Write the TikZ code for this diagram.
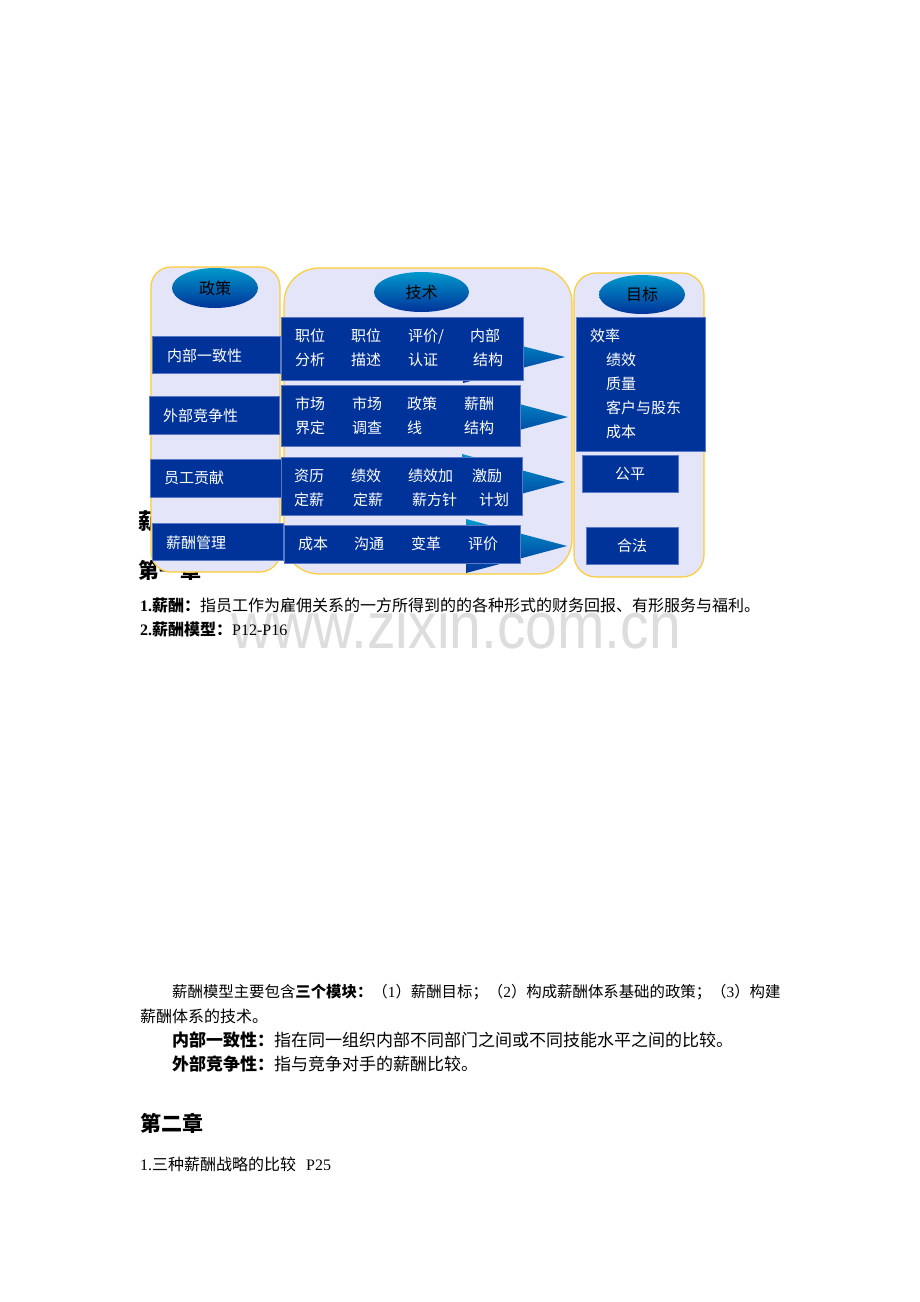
\documentclass[tikz,border=0pt]{standalone}
\usepackage{fontspec}
\setmainfont{Liberation Serif}
\newfontfamily\cjk{Noto Sans CJK SC}
\newfontfamily\wmfont{Liberation Sans}
\usetikzlibrary{positioning, shapes.geometric, fit, calc}
\definecolor{boxblue}{RGB}{0,51,153}
\definecolor{boxedge}{RGB}{90,120,200}
\definecolor{headcyan}{RGB}{0,153,204}
\definecolor{panelfill}{RGB}{229,229,250}
\definecolor{panelline}{RGB}{255,204,51}
\definecolor{wmgray}{RGB}{221,221,221}
\newcommand{\Lat}[1]{{\rmfamily #1}}
\newcommand{\Size}[1]{\fontsize{#1}{24}\selectfont}
\tikzset{
    panel/.style={draw=panelline, line width=1.2pt, fill=panelfill, rounded corners=#1, inner sep=0pt},
    head/.style={ellipse, top color=headcyan, bottom color=boxblue, inner sep=0pt, font=\cjk\Size{16}},
    bluebox/.style={fill=boxblue, draw=boxedge, line width=0.5pt, inner sep=0pt},
    wedge/.style={top color=headcyan, bottom color=boxblue},
    cell/.style={text=white, anchor=west, inner sep=0pt, align=left, font=\cjk\Size{15}},
    line/.style={anchor=west, inner sep=0pt, font=\cjk\Size{16}},
}

\begin{document}
\begin{tikzpicture}[x=1pt, y=-1pt]
    \fill[white] (0,0) rectangle (920,1302);
    \useasboundingbox (0,0) rectangle (920,1302);

    \node[line, font=\cjk\bfseries\Size{22}] (title) at (138,521) {薪};
    \node[line, font=\cjk\bfseries\Size{21}] (ch1) at (138,570) {第一章};

    \node[panel=20pt, fit={(151,267) (280,572)}] (policy) {};
    \node[panel=35pt, fit={(284,268) (572,574)}] (tech) {};
    \node[panel=22pt, fit={(574,273) (704,577)}] (goal) {};

    \node[head, minimum width=86pt, minimum height=40pt] (hpolicy) at (215,288) {政策};
    \node[head, minimum width=95pt, minimum height=40pt] (htech) at (421.5,292) {技术};
    \node[head, minimum width=86pt, minimum height=39pt] (hgoal) at (642,294.5) {目标};

    \foreach \i/\bx/\tx/\ty/\h in {1/463/565/357/26, 2/463/568/417/28, 3/462/565/482/28, 4/466/567/546/27}{
        \coordinate (tip\i) at (\tx,\ty);
        \shade[wedge] (\bx,\ty-\h) -- (tip\i) -- (\bx,\ty+\h) -- cycle;
    }

    \node[bluebox, fit={(281,317) (523,380)}] (row1) {};
    \node[bluebox, fit={(281,385) (520,446)}] (row2) {};
    \node[bluebox, fit={(281,457) (522,515)}] (row3) {};
    \node[bluebox, fit={(284,525) (520,563)}] (row4) {};

    \node[bluebox, fit={(152,336) (280,373)}] (inner) {};
    \node[bluebox, fit={(149,396) (279,434)}] (outer) {};
    \node[bluebox, fit={(150,459) (281,497)}] (staff) {};
    \node[bluebox, fit={(152,523) (283,560)}] (admin) {};

    \node[bluebox, fit={(576,317) (705,451)}] (effic) {};
    \node[bluebox, fit={(582,455) (678,492)}] (fair) {};
    \node[bluebox, fit={(586,527) (678,564)}] (legal) {};

    \foreach \x/\y/\t [count=\k] in {
        295/348/{职位\\分析}, 351/348/{职位\\描述}, 408/348/{评价/\\认证}, 470/348/{内部\\\hspace{3pt}结构},
        295/416/{市场\\界定}, 352/416/{市场\\调查}, 407/416/{政策\\线}, 464/416/{薪酬\\结构},
        294/488/{资历\\定薪}, 351/488/{绩效\\\hspace{2pt}定薪}, 408/488/{绩效加\\\hspace{4pt}薪方针}, 472/488/{激励\\\hspace{7pt}计划},
        298/544/成本, 354/544/沟通, 411/544/变革, 468/544/评价,
        167/356/内部一致性, 163/416/外部竞争性, 164/478/员工贡献, 166/543/薪酬管理}
        \node[cell] (cell\k) at (\x,\y) {\t};

    \node[cell] (efftext) at (590,384) {效率\\\hspace{16pt}绩效\\\hspace{16pt}质量\\\hspace{16pt}客户与股东\\\hspace{16pt}成本};
    \node[cell, anchor=center] (fairtext) at (fair.center) {公平};
    \node[cell, anchor=center] (legaltext) at (legal.center) {合法};

    \node[anchor=base west, inner sep=0pt, text=wmgray, font=\wmfont\fontsize{57}{57}\selectfont] (wm) at (231,648) {\scalebox{1}[1.15]{www.zixin.com.cn}};

    \node[line] (l1) at (140,605) {{\bfseries\Lat{1.}薪酬：}指员工作为雇佣关系的一方所得到的的各种形式的财务回报、有形服务与福利。};
    \node[line] (l2) at (140,629) {{\bfseries\Lat{2.}薪酬模型：}\Lat{P12-P16}};
    \node[line, font=\cjk\Size{15.4}] (l3) at (172,992) {薪酬模型主要包含{\bfseries 三个模块：}（\Lat{1}）薪酬目标；（\Lat{2}）构成薪酬体系基础的政策；（\Lat{3}）构建};
    \node[line] (l4) at (140,1016) {薪酬体系的技术。};
    \node[line, font=\cjk\Size{17}] (l5) at (172,1040) {{\bfseries 内部一致性：}指在同一组织内部不同部门之间或不同技能水平之间的比较。};
    \node[line, font=\cjk\Size{17}] (l6) at (172,1064) {{\bfseries 外部竞争性：}指与竞争对手的薪酬比较。};
    \node[line, font=\cjk\bfseries\Size{21}] (ch2) at (140,1123) {第二章};
    \node[line] (l7) at (140,1164) {\Lat{1.}三种薪酬战略的比较\hspace{10pt}\Lat{P25}};
\end{tikzpicture}
\end{document}
